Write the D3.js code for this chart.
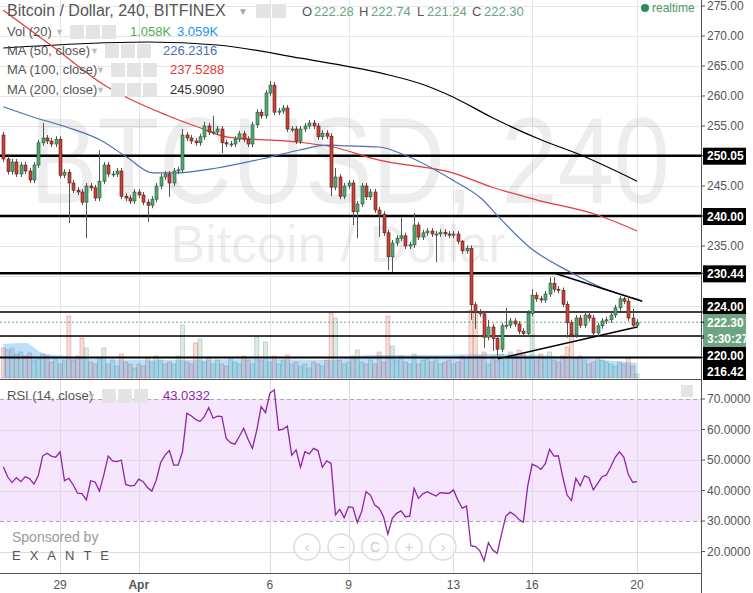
<!DOCTYPE html>
<html><head><meta charset="utf-8">
<script src="https://cdn.jsdelivr.net/npm/d3@7"></script>
<style>body{margin:0;background:#fff}svg{display:block;font-family:"Liberation Sans",Arial,sans-serif}</style>
</head><body><svg id="c" width="753" height="593"></svg>
<script>
const firstOpen = 253.5;
const closes = [249.5,247.4,249,247,248.5,247.5,246,248.5,252.2,253,252.5,252,252.8,246.8,247.3,245.5,244.3,244,242.3,245,244.7,243,245.8,248.5,247,247,247.5,243.3,243,242.5,244,243.5,242.3,241.8,242.8,245,246.5,247,
245.5,247.5,247.7,253.5,253,252.5,252.2,253.2,255,254,254,254.5,252.2,252,252,252.8,253.7,252.8,252,255.2,257.3,256.7,260.5,261.8,257.3,257.5,258,254.5,254.5,252.5,254.5,255,255.5,255,253.2,253.8,253.3,244.8,
246.5,243.3,245,245.5,240.7,242,245,243.2,244,241,240.3,237.2,233.2,235.5,236.3,236.7,235,235.2,238.5,236.5,237.2,237.5,237,237,237.3,237,236.8,237,235.8,234.2,234.6,225.2,
224,223.7,219.8,221.5,219.6,217.8,221.7,221.8,222.5,222,220.8,220.4,223.8,226.8,226.2,226,227,228.8,227.8,227.6,225.3,222.2,220.2,223,221.8,223.5,223,220.5,221.7,222.5,222.7,223.5,224.7,226.2,225.8,223,221.8,222.3];
// notable wicks: [index, high, low]
const wicks = [[9,255.5,null],[15,null,238.8],[19,null,236.3],[22,251,null],[33,null,239],[38,null,243.2],[41,254.5,null],[46,255.7,null],[48,256.7,null],[50,null,250.5],[60,261,null],[61,262.5,null],[62,262.3,null],[75,null,243.3],[76,248,null],[80,null,238.5],[81,null,236.3],[86,null,236.5],[88,null,231],[89,null,230.7],[91,239.7,null],[94,240.5,null],[99,null,232.3],[105,236,null],[107,null,222.7],[108,null,221.2],[110,null,218],[111,222.7,null],[112,null,217.5],[113,null,216.6],[115,224.7,null],[121,227.8,null],[125,229.8,null],[126,229.8,null],[129,null,219.7],[130,null,220.5],[136,null,219.8],[142,226.5,null],[143,226.7,null],[144,224.5,null]];
const volumes = [30,28,30,24,26,22,25,18,20,24,22,16,20,14,18,62,18,22,40,30,16,14,20,30,14,18,12,24,16,14,10,14,12,20,16,22,18,14,16,14,22,53,16,14,35,39,16,20,14,18,14,12,20,16,14,22,18,14,41,18,36,16,22,14,18,23,14,16,12,14,10,16,14,12,18,65,60,18,14,16,22,28,16,14,18,14,26,16,62,32,18,22,16,14,24,14,18,20,16,18,14,16,18,14,16,22,20,68,66,22,26,14,22,18,24,20,26,22,28,24,20,65,18,24,20,26,18,16,22,31,44,20,22,18,14,16,20,18,16,14,12,16,14,20,12,4];
const volMA = [[0,34],[5,35],[9,25],[14,22],[20,19],[40,18],[60,19],[75,18],[84,23],[100,23],[110,24],[127,22],[135,19],[145,15]];
const ma200 = [[0,268],[33,269],[49,268.5],[68,266.3],[86.5,263.8],[95.7,262],[103,259.8],[111.6,256.5],[123,252.7],[132,250.2],[145,245.8]];
const ma100 = [[0,274.3],[12.3,267.7],[22.1,262.3],[37.4,256.8],[45,254.7],[51,253.2],[67.8,252.3],[75.4,251.5],[86,249.3],[102.8,247.2],[111.9,244.8],[122,242.7],[135.8,240.2],[145,237.5]];
const ma50 = [[0,258.2],[6.8,256.5],[14.6,254.8],[22.1,252.7],[28.3,249.8],[34.2,247.2],[39.7,247.2],[48.9,248],[60.3,249.7],[67.8,251],[74,251.8],[78.6,251.7],[86,251.5],[91.4,250.3],[102.8,246],[109.7,242.7],[112.9,240.2],[120.4,234.8],[129.6,230.7],[137.1,228],[145.6,226]];
const trendLines = [[[126,230.5],[146.2,225.8]],[[113.2,216.2],[145,221.5]]];
const levels = [[250.05,2.5],[240,2.5],[230.44,2.5],[224,1.5],[220,1.5],[216.42,2]];
const rsi = [47.8,44.5,42.6,44.2,42.9,44.5,43.9,42.1,44.8,51.3,52.2,51.3,50.9,52.7,43.2,44.0,41.8,39.1,39.0,36.9,43.2,42.8,39.8,45.1,51.3,49.7,49.5,50.0,42.0,41.5,41.7,43.7,42.9,41.0,39.8,43.4,49.1,51.6,53.1,48.3,48.3,52.7,65.3,64.5,63.3,62.6,64.2,67.2,63.7,64.4,64.2,57.1,55.7,55.2,57.7,60.4,56.8,53.8,59.8,67.5,65.5,71.9,73.0,59.8,60.1,61.1,51.6,53.3,47.6,52.7,52.0,53.8,53.1,47.6,49.7,48.9,32.0,33.8,31.1,34.7,34.4,29.5,33.1,39.6,
38.5,35.2,34.2,31.4,25.7,30.9,32.5,33.3,31.4,31.6,40.7,37.4,38.9,39.6,38.9,38.2,39.3,39.1,39.1,40.2,36.9,34.2,34.9,21.9,21.6,20.3,16.9,22.9,20.5,19.4,25.7,31.6,32.9,32.0,30.5,29.6,41.5,48.6,48.0,46.9,48.7,53.5,51.3,51.4,44.5,38.5,36.7,44.0,41.5,44.8,44.2,40.2,42.3,44.5,45.1,47.8,50.9,52.7,50.9,45.3,42.7,42.9];
const priceTicks = [275,270,265,260,255,245,235];
const gridPrices = [275,270,265,260,255,250,245,240,235,230,225,220];
const rsiTicks = [70,60,50,40,30,20];
const dateTicks = [[13,"29"],[31,"Apr"],[61,"6"],[79,"9"],[103,"13"],[121,"16"],[145,"20"]];
const priceBoxes = [[250.05,"250.05","#000"],[240,"240.00","#000"],[230.44,"230.44","#000"],[224,"224.00","#000",306],[222.3,"222.30","#6ba583",322],[null,"3:30:27","#6ba583",338],[220,"220.00","#000",355],[216.42,"216.42","#000",371]];

const svg = d3.select("#c");
const W = 701;
const x = d3.scaleLinear().domain([0,145]).range([3.3,637]);
const y = d3.scaleLinear().domain([276,212]).range([0,384]);
const yv = d3.scaleLinear().domain([0,70]).range([378,308]);
const yr = d3.scaleLinear().domain([70,30]).range([399,521]);

const g = svg.append("g");
gridPrices.forEach(p=>g.append("line").attr("x1",0).attr("x2",W).attr("y1",Math.round(y(p))+.5).attr("y2",Math.round(y(p))+.5).attr("stroke","#e6e6e6"));
dateTicks.forEach(d=>g.append("line").attr("x1",Math.round(x(d[0]))+.5).attr("x2",Math.round(x(d[0]))+.5).attr("y1",0).attr("y2",573).attr("stroke","#e6e6e6"));
svg.append("text").attr("x",350).attr("y",203).attr("text-anchor","middle").attr("font-size",122).attr("textLength",640).attr("lengthAdjust","spacingAndGlyphs").attr("fill","#000").attr("fill-opacity",0.07).text("BTCUSD, 240");
svg.append("text").attr("x",338).attr("y",262).attr("text-anchor","middle").attr("font-size",52).attr("textLength",335).attr("lengthAdjust","spacingAndGlyphs").attr("fill","#000").attr("fill-opacity",0.07).text("Bitcoin / Dollar");

const opens = closes.map((c,i)=> i===0?firstOpen:closes[i-1]);
svg.append("g").selectAll("rect").data(volumes).join("rect")
 .attr("x",(d,i)=>x(i)-2).attr("width",4).attr("y",d=>yv(d)).attr("height",d=>378-yv(d))
 .attr("fill",(d,i)=>closes[i]>=opens[i]?"rgba(107,165,131,0.22)":"rgba(215,84,66,0.2)")
 .attr("stroke",(d,i)=>closes[i]>=opens[i]?"rgba(107,165,131,0.45)":"rgba(215,84,66,0.4)").attr("stroke-width",0.8);
svg.append("path").datum(volMA).attr("d",d3.area().x(d=>x(d[0])).y0(378).y1(d=>yv(d[1])).curve(d3.curveMonotoneX))
 .attr("fill","rgba(33,150,243,0.3)");

levels.forEach(l=>svg.append("line").attr("x1",0).attr("x2",W).attr("y1",y(l[0])).attr("y2",y(l[0])).attr("stroke","#000").attr("stroke-width",l[1]));
svg.append("line").attr("x1",0).attr("x2",W).attr("y1",y(222.3)).attr("y2",y(222.3)).attr("stroke","#6ba583").attr("stroke-dasharray","2,2");

const line = d3.line().x(d=>x(d[0])).y(d=>y(d[1])).curve(d3.curveMonotoneX);
[[ma200,"#000"],[ma100,"#e53935"],[ma50,"#4a6fb5"]].forEach(m=>svg.append("path").attr("d",line(m[0])).attr("fill","none").attr("stroke",m[1]).attr("stroke-width",1.2));
trendLines.forEach(t=>svg.append("path").attr("d",d3.line().x(d=>x(d[0])).y(d=>y(d[1]))(t)).attr("stroke","#000").attr("stroke-width",1.5));

const wm = new Map(wicks.map(w=>[w[0],w]));
const cg = svg.append("g");
closes.forEach((c,i)=>{
  const o=opens[i], up=c>=o, w=wm.get(i);
  let hi=Math.max(o,c)+0.5, lo=Math.min(o,c)-0.5;
  if(w){ if(w[1]!=null)hi=w[1]; if(w[2]!=null)lo=w[2]; }
  const cx=Math.round(x(i))+.5;
  cg.append("line").attr("x1",cx).attr("x2",cx).attr("y1",y(hi)).attr("y2",y(lo)).attr("stroke","#555");
  const t=y(Math.max(o,c)), b=y(Math.min(o,c));
  cg.append("rect").attr("x",cx-1.5).attr("width",3).attr("y",t).attr("height",Math.max(1,b-t))
    .attr("fill",up?"#53a86f":"#c9423a").attr("stroke",up?"#225437":"#5b1a13").attr("stroke-width",0.6);
});

svg.append("rect").attr("x",0).attr("width",W).attr("y",yr(70)).attr("height",yr(30)-yr(70)).attr("fill","#f5e6fd");
rsiTicks.forEach(r=>svg.append("line").attr("x1",0).attr("x2",W).attr("y1",Math.round(yr(r))+.5).attr("y2",Math.round(yr(r))+.5).attr("stroke",(r==70||r==30)?"#aaa":"#e0d8e4").attr("stroke-dasharray",(r==70||r==30)?"4,3":null));
dateTicks.forEach(d=>svg.append("line").attr("x1",Math.round(x(d[0]))+.5).attr("x2",Math.round(x(d[0]))+.5).attr("y1",380).attr("y2",573).attr("stroke","#e0d8e4"));
svg.append("path").attr("d",d3.line().x((d,i)=>x(i)).y(d=>yr(d))(rsi)).attr("fill","none").attr("stroke","#8e24aa").attr("stroke-width",1.3);
svg.append("line").attr("x1",0).attr("x2",W).attr("y1",379.5).attr("y2",379.5).attr("stroke","#555");

svg.append("line").attr("x1",W+.5).attr("x2",W+.5).attr("y1",0).attr("y2",593).attr("stroke","#555");
svg.append("line").attr("x1",0).attr("x2",W).attr("y1",573.5).attr("y2",573.5).attr("stroke","#555");
const ax = svg.append("g").attr("font-size",12).attr("fill","#555");
priceTicks.forEach(p=>{ax.append("line").attr("x1",W).attr("x2",W+4).attr("y1",y(p)).attr("y2",y(p)).attr("stroke","#555");
 ax.append("text").attr("x",707).attr("y",y(p)+4).text(p.toFixed(2));});
rsiTicks.forEach(r=>{ax.append("line").attr("x1",W).attr("x2",W+4).attr("y1",yr(r)).attr("y2",yr(r)).attr("stroke","#555");
 ax.append("text").attr("x",707).attr("y",yr(r)+4).text(r.toFixed(4));});
dateTicks.forEach(d=>ax.append("text").attr("x",x(d[0])).attr("y",589).attr("text-anchor","middle").attr("font-weight",d[1]==="Apr"?"bold":null).text(d[1]));
priceBoxes.forEach(b=>{const cy=b[3]!=null?b[3]:y(b[0]);
 svg.append("rect").attr("x",703).attr("y",cy-8).attr("width",43).attr("height",17).attr("fill",b[2]);
 svg.append("text").attr("x",707).attr("y",cy+4.5).attr("font-size",12).attr("font-weight","bold").attr("fill","#fff").text(b[1]);
 svg.append("line").attr("x1",W).attr("x2",W+3).attr("y1",b[0]!=null?y(b[0]):cy).attr("y2",b[0]!=null?y(b[0]):cy).attr("stroke","#000");});

function icons(x0,yy){[0,16,32].forEach(k=>svg.append("rect").attr("x",x0+k).attr("y",yy-11).attr("width",14).attr("height",14).attr("fill","#e4e4e4"));}
const H = svg.append("g");
H.append("text").attr("x",7).attr("y",16).attr("font-size",16).attr("fill","#555").text("Bitcoin / Dollar, 240, BITFINEX");
H.append("text").attr("x",238).attr("y",15).attr("font-size",10).attr("fill","#aaa").text("▼");
[256,272].forEach(k=>svg.append("rect").attr("x",k).attr("y",4).attr("width",14).attr("height",14).attr("fill","#e4e4e4"));
const ohlc=[["O",302],["222.28",314],["H",359],["222.74",371],["L",417],["221.24",427],["C",472],["222.30",484]];
ohlc.forEach((o,k)=>H.append("text").attr("x",o[1]).attr("y",16).attr("font-size",13).attr("fill",k%2?"#6ba583":"#555").text(o[0]));
const rows=[["Vol (20)",36,70,[["1.058K",130,"#4caf50"],["3.059K",177,"#2196f3"]]],["MA (50, close)",55,105,[["226.2316",163,"#4a6fb5"]]],["MA (100, close)",74,111,[["237.5288",170,"#e53935"]]],["MA (200, close)",94,111,[["245.9090",170,"#333"]]],["RSI (14, close)",400,102,[["43.0332",163,"#8e24aa"]]]];
rows.forEach(r=>{H.append("text").attr("x",7).attr("y",r[1]).attr("font-size",13).attr("fill","#555").text(r[0]);
 H.append("text").attr("x",r[2]-15).attr("y",r[1]-1).attr("font-size",9).attr("fill","#bbb").text("▼");
 icons(r[2],r[1]); r[3].forEach(v=>H.append("text").attr("x",v[1]).attr("y",r[1]).attr("font-size",13).attr("fill",v[2]).text(v[0]));});
svg.append("circle").attr("cx",645).attr("cy",8).attr("r",4).attr("fill","#2e8b57");
svg.append("text").attr("x",652).attr("y",12).attr("font-size",12).attr("fill","#4a9a6a").text("realtime");
svg.append("rect").attr("x",681).attr("y",385).attr("width",12).attr("height",12).attr("fill","#e4e4e4");
svg.append("text").attr("x",12).attr("y",542).attr("font-size",14).attr("fill","#999").text("Sponsored by");
svg.append("text").attr("x",12).attr("y",560).attr("font-size",13).attr("letter-spacing",9).attr("fill","#555").text("EXANTE");
["‹","−","C","+","›"].forEach((s,k)=>{svg.append("circle").attr("cx",307+k*34).attr("cy",547).attr("r",13).attr("fill","rgba(255,255,255,0.5)").attr("stroke","#ddd").attr("stroke-width",1.5);
 svg.append("text").attr("x",307+k*34).attr("y",552).attr("text-anchor","middle").attr("font-size",14).attr("fill","#ccc").text(s);});
</script></body></html>
